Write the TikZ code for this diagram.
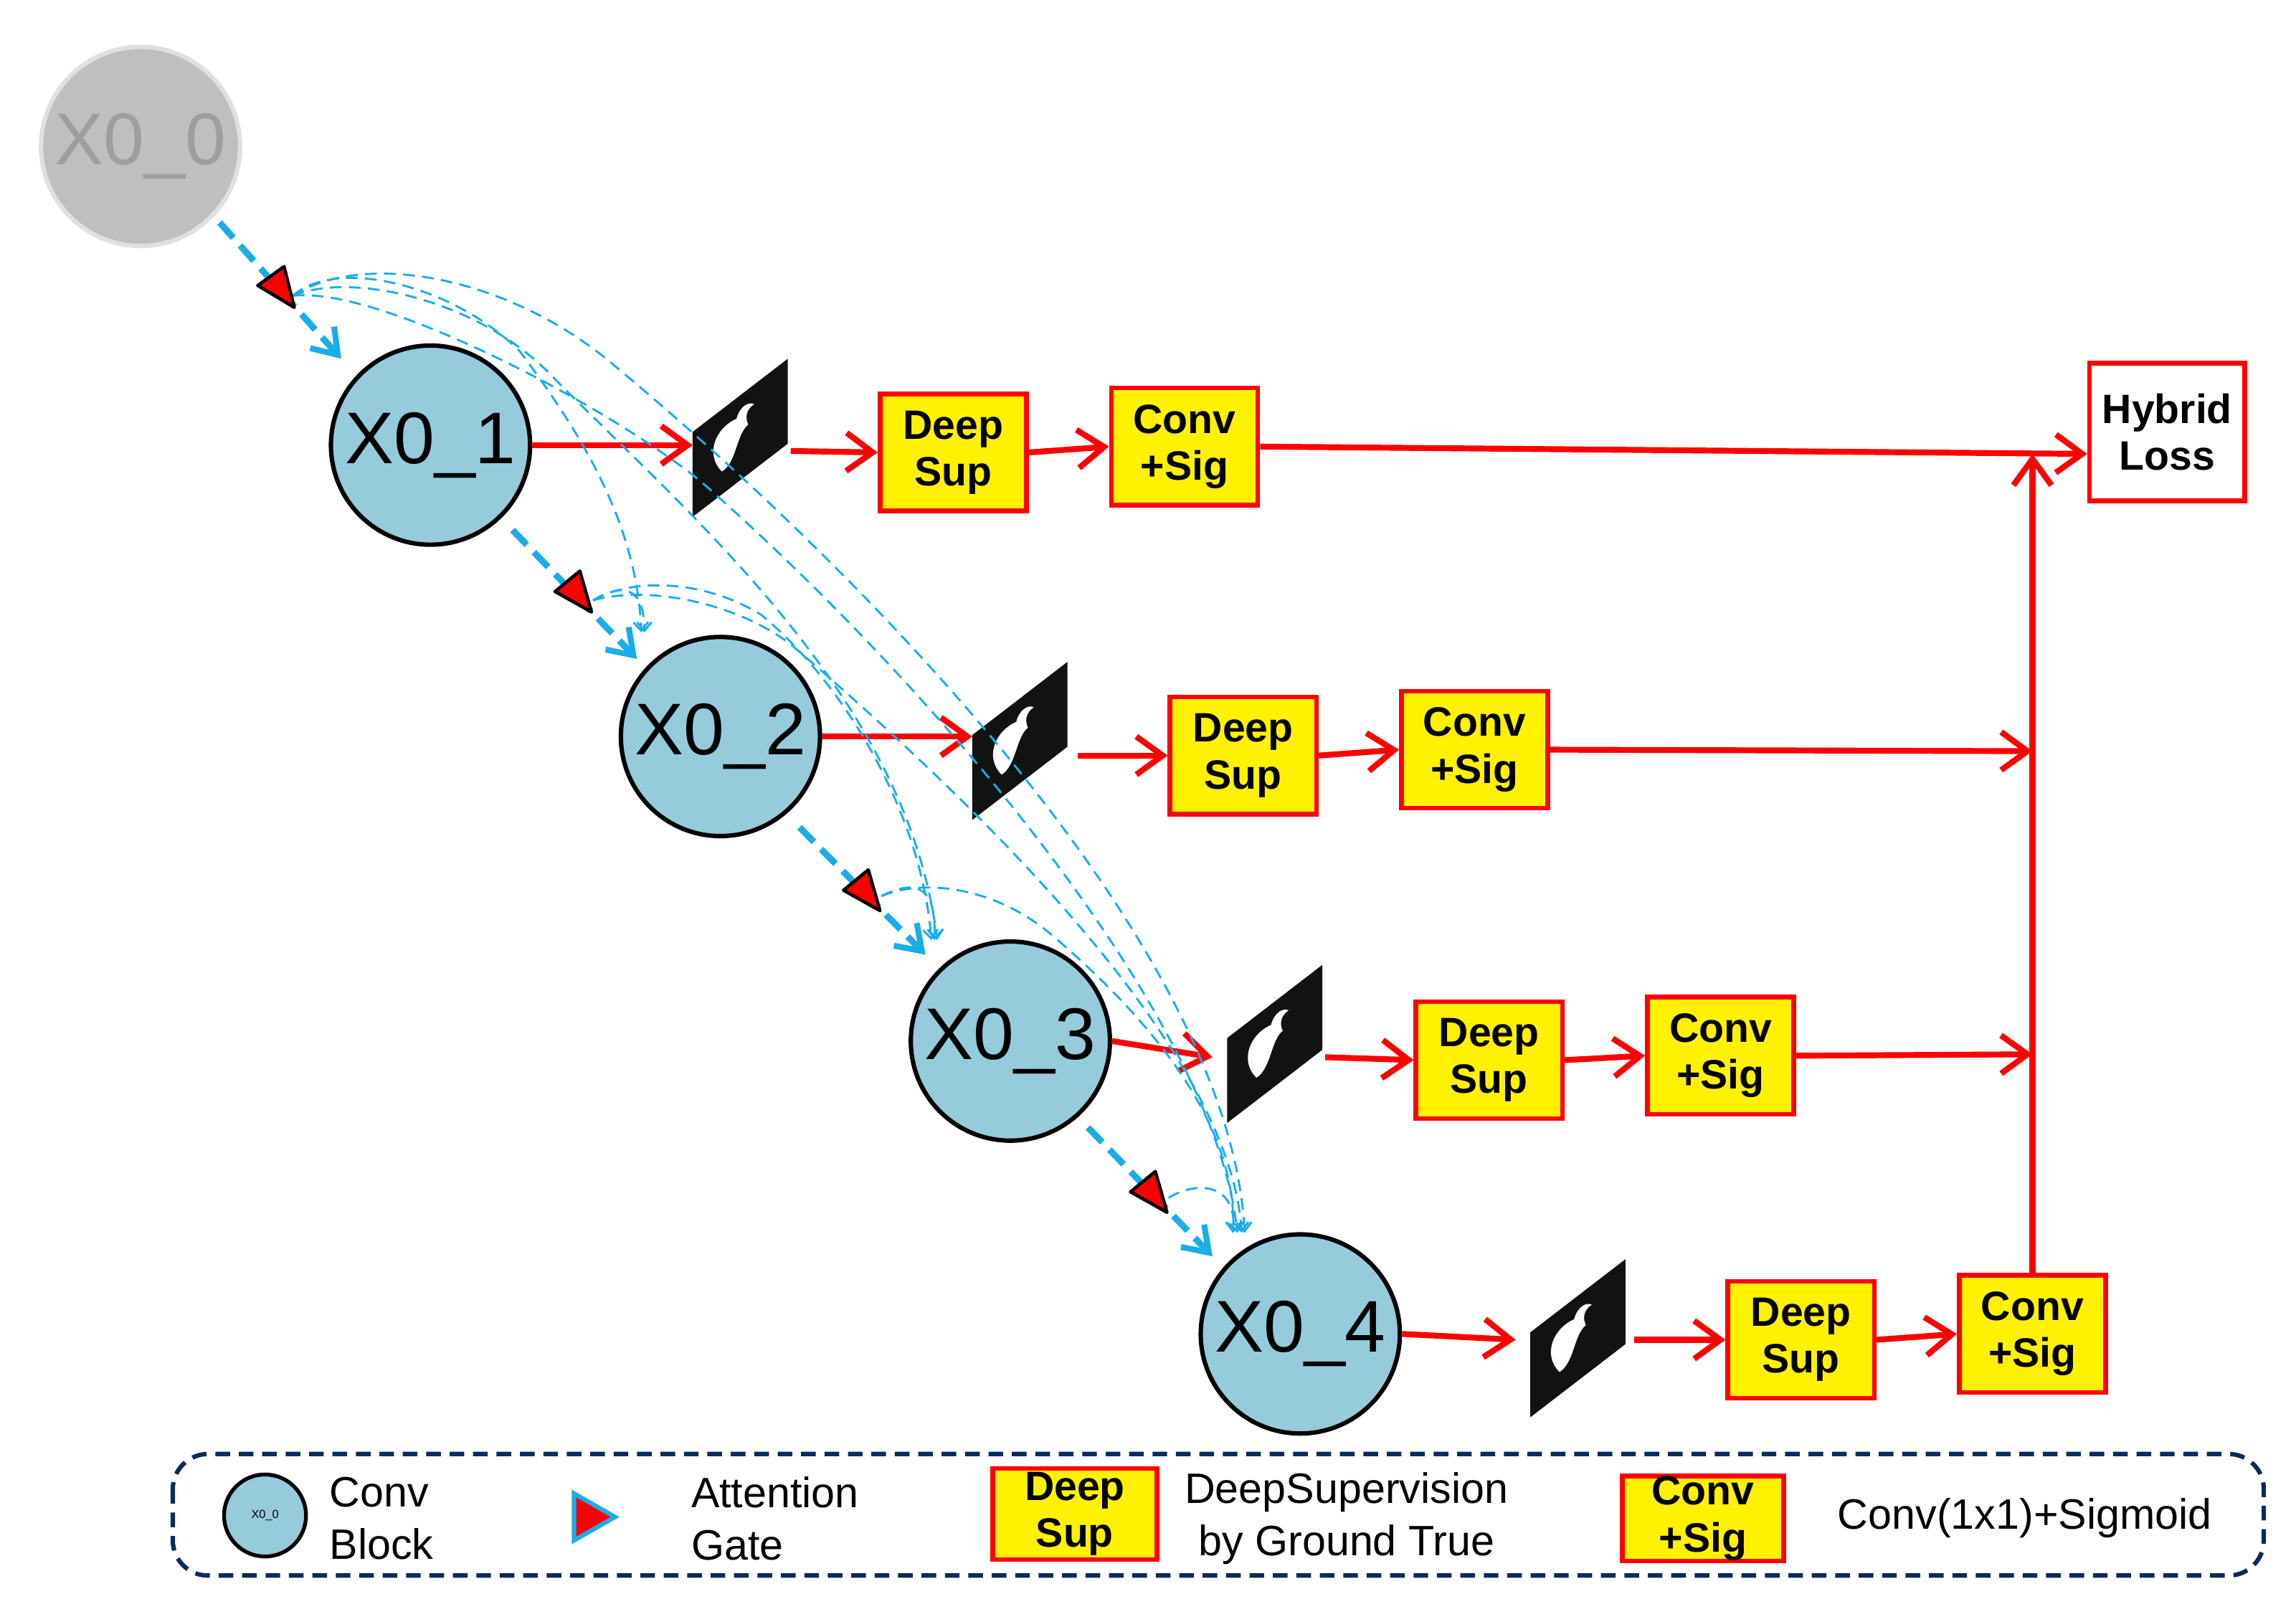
\documentclass[tikz,border=0pt]{standalone}
\usepackage{fontspec}
\setmainfont{Liberation Sans}
\usetikzlibrary{arrows.meta}
\definecolor{cblue}{HTML}{96CBDC}
\definecolor{sky}{HTML}{1AADE8}
\definecolor{navy}{HTML}{0D2A5C}
\begin{document}
\begin{tikzpicture}[x=0.5pt,y=-0.5pt,
 conv/.style={circle,draw=black,line width=1.5pt,fill=cblue,minimum size=68pt,inner sep=0,font=\fontsize{25}{28}\selectfont},
 box/.style={draw=red,line width=1.6pt,fill=yellow,minimum width=50pt,minimum height=40pt,inner sep=0,align=center,font=\bfseries\fontsize{14}{16}\selectfont},
 rarr/.style={red,line width=2pt,-{Straight Barb[length=9pt,width=13pt,line width=2pt]}},
 barr/.style={sky,line width=2.2pt,dash pattern=on 7pt off 3.5pt,-{Straight Barb[length=8pt,width=11pt,line width=2pt]}},
 skip/.style={sky,line width=0.7pt,dash pattern=on 4pt off 2.5pt,-{Straight Barb[length=3pt,width=5pt]}},
 gate/.style={fill=red,draw=black,line width=1.1pt,line join=round},
 tile/.style={fill=black!93}]
\useasboundingbox (0,0) rectangle (1568,1095);
% nodes
\node[circle,fill=black!25,draw=black!12,line width=1.5pt,minimum size=68pt,inner sep=0,text=black!38,font=\fontsize{25}{28}\selectfont] (x0) at (96,100) {X0\_0};
\node[conv] (x1) at (294,304) {X0\_1};
\node[conv] (x2) at (492,503) {X0\_2};
\node[conv] (x3) at (690,711) {X0\_3};
\node[conv] (x4) at (888,911) {X0\_4};
% tiles
\foreach \n/\x/\y in {t1/473/300,t2/664/507,t3/838/714,t4/1045/915}{
 \fill[tile] (\x,\y-5)--(\x+65,\y-55)--(\x+65,\y+3)--(\x,\y+53)--cycle;
 \fill[white] (\x+20,\y+22) .. controls (\x+8,\y+10) and (\x+16,\y-8) .. (\x+30,\y-14)
   .. controls (\x+32,\y-22) and (\x+38,\y-26) .. (\x+42,\y-24)
   .. controls (\x+36,\y-20) and (\x+36,\y-14) .. (\x+38,\y-10)
   .. controls (\x+30,\y-4) and (\x+30,\y+16) .. (\x+20,\y+22) -- cycle;
 \coordinate (\n w) at (\x,\y+4);
}
% boxes
\node[box] (d1) at (651,309) {Deep\\Sup};
\node[box] (c1) at (809,305) {Conv\\+Sig};
\node[box] (d2) at (849,516) {Deep\\Sup};
\node[box] (c2) at (1007,512) {Conv\\+Sig};
\node[box] (d3) at (1017,724) {Deep\\Sup};
\node[box] (c3) at (1175,721) {Conv\\+Sig};
\node[box] (d4) at (1230,915) {Deep\\Sup};
\node[box] (c4) at (1388,911) {Conv\\+Sig};
\node[box,fill=white,minimum width=53pt,minimum height=47pt] (hl) at (1480,295) {Hybrid\\Loss};
\coordinate (j2) at (1388,513);
\coordinate (j3) at (1388,720);
\coordinate (j1) at (1388,310);
% red arrows
\draw[rarr] (x1.east) -- (x1.east -| t1w);
\draw[rarr] (540,308) -- (d1.west);
\draw[rarr] (d1.east) -- (c1.west);
\draw[rarr] (c1.east) -- (hl.west |- j1);
\draw[rarr] (x2.east) -- (x2.east -| t2w);
\draw[rarr] (736,516) -- (d2.west);
\draw[rarr] (d2.east) -- (c2.west);
\draw[rarr] (c2.east) -- (j2);
\draw[rarr] (x3.east) -- (828,722);
\draw[rarr] (905,722) -- (d3.west);
\draw[rarr] (d3.east) -- (c3.west);
\draw[rarr] (c3.east) -- (j3);
\draw[rarr] (x4.east) -- (1035,915);
\draw[rarr] (1116,915) -- (d4.west);
\draw[rarr] (d4.east) -- (c4.west);
\draw[rarr] (c4.north) -- (j1);
% gates coordinates
\coordinate (g1) at (200,202);
\coordinate (g2) at (405,410);
\coordinate (g3) at (602,612);
\coordinate (g4) at (798,818);
% skip curves
\draw[skip] (g1) .. controls (230,175) and (310,195) .. (355,240) .. controls (400,300) and (435,360) .. (438,432);
\draw[skip] (g1) .. controls (240,185) and (330,205) .. (380,260) .. controls (480,360) and (620,480) .. (640,642);
\draw[skip] (g1) .. controls (250,170) and (350,190) .. (420,250) .. controls (600,400) and (840,650) .. (850,842);
\draw[skip] (g1) .. controls (260,195) and (420,280) .. (480,330) .. controls (650,480) and (830,700) .. (845,842);
\draw[skip] (g2) .. controls (430,395) and (480,395) .. (520,420) .. controls (580,470) and (630,560) .. (636,642);
\draw[skip] (g2) .. controls (440,400) and (500,410) .. (540,440) .. controls (680,560) and (840,720) .. (848,842);
\draw[skip] (g2) .. controls (425,398) and (440,400) .. (440,432);
\draw[skip] (g3) .. controls (630,600) and (680,605) .. (720,640) .. controls (790,700) and (845,770) .. (842,842);
\draw[skip] (g3) .. controls (625,600) and (640,605) .. (638,642);
\draw[skip] (g4) .. controls (820,805) and (845,810) .. (842,842);
% blue thick arrows
\draw[barr] (150,152) -- (233,245);
\draw[barr] (350,362) -- (435,450);
\draw[barr] (546,565) -- (632,652);
\draw[barr] (743,770) -- (828,858);
% red triangles
\draw[gate] (176,195) -- (194,182) -- (201,210) -- cycle;
\draw[gate] (379,404) -- (396,390) -- (404,418) -- cycle;
\draw[gate] (576,608) -- (593,594) -- (601,622) -- cycle;
\draw[gate] (772,814) -- (789,800) -- (797,828) -- cycle;
% legend
\draw[navy,line width=1.5pt,dash pattern=on 5pt off 3pt,rounded corners=12] (118,993) rectangle (1546,1076);
\node[circle,draw=black,line width=1.3pt,fill=cblue,minimum size=28pt,inner sep=0,font=\fontsize{4}{5}\selectfont] (lc) at (181,1035) {X0\_0};
\node[anchor=west,align=left,font=\fontsize{14.5}{18}\selectfont] (lt1) at (218,1037) {Conv\\Block};
\draw[fill=red,draw=sky,line width=1.5pt] (392,1020) -- (420,1036) -- (392,1052) -- cycle;
\node[anchor=west,align=left,font=\fontsize{14.5}{18}\selectfont] (lt2) at (465,1037) {Attention\\Gate};
\node[box,minimum width=56pt,minimum height=31pt] (ld) at (734,1034) {Deep\\Sup};
\node[anchor=west,align=center,font=\fontsize{14.5}{18}\selectfont] (lt3) at (802,1037) {DeepSupervision\\ by Ground True};
\node[box,minimum width=55pt,minimum height=29pt] (lcs) at (1163,1037) {Conv\\+Sig};
\node[anchor=west,font=\fontsize{14.5}{18}\selectfont] (lt4) at (1248,1037) {Conv(1x1)+Sigmoid};
\end{tikzpicture}
\end{document}
